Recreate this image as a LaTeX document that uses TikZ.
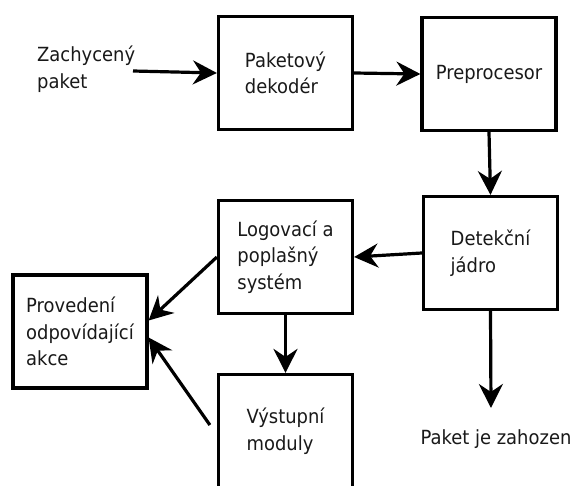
\documentclass[tikz,border=0pt]{standalone}
\usepackage{fontspec}
\setmainfont{DejaVu Sans}[FakeStretch=0.92]
\usetikzlibrary{arrows.meta,calc}
\newcommand{\fsz}{\fontsize{19.5}{26.5}\selectfont}
\tikzset{
  box/.style={draw, line width=3.2pt, minimum width=134pt, minimum height=113pt,
    align=left, inner sep=0pt, font=\fsz, text=black!90},
  lbl/.style={align=left, inner sep=0pt, font=\fsz, text=black!90},
  conn/.style={line width=3.2pt, -{Stealth[length=24pt,width=24pt,inset=8pt]}}
}
\begin{document}
\begin{tikzpicture}[x=1pt,y=-1pt]
\useasboundingbox (0,0) rectangle (576,485);
\clip (0,0) rectangle (576,485);
\fill[white] (0,0) rectangle (576,485);
\node[box] (pd) at (285.5,73) {Paketový\\dekodér};
\node[box] (pp) at (489,74) {Preprocesor};
\node[box] (dj) at (490.5,253) {Detekční\\jádro};
\node[box] (lg) at (285.5,257) {Logovací a\\poplašný\\systém};
\node[box] (pa) at (80,331.5) {Provedení\\odpovídající\\akce};
\node[box] (vm) at (285.5,431) {Výstupní\\moduly};
\node[lbl, anchor=west] (zp) at (37,69) {Zachycený\\paket};
\node[lbl] (pz) at (496,439) {Paket je zahozen};
\coordinate (in) at (133,71);
\coordinate (drop) at (491,408);
\draw[conn] (in) -- (pd.west);
\draw[conn] (pd.east) -- (pp.west);
\draw[conn] (pp.south) -- (dj.north);
\draw[conn] (dj.west) -- (lg.east);
\draw[conn] (lg.west) -- ([yshift=11pt]pa.east);
\draw[conn] (lg.south) -- (vm.north);
\draw[conn] ($(vm.west)+(-7,-6)$) -- ([yshift=-6pt]pa.east);
\draw[conn] (dj.south) -- (drop);
\end{tikzpicture}
\end{document}
